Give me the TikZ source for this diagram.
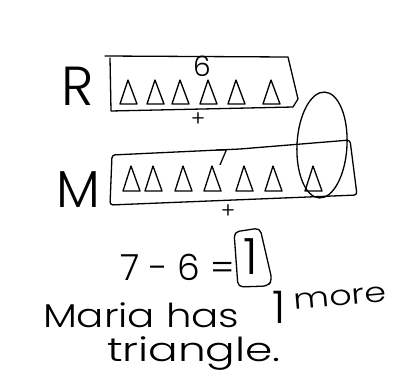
\documentclass[tikz,border=0pt]{standalone}
\usepackage{fontspec}
\setmainfont{Poppins Light}
\newcommand\mytri[3]{\draw[ink] (#1-8,#2) -- (#1,#3) -- (#1+9,#2) -- cycle;}
\begin{document}
\begin{tikzpicture}[x=1pt,y=-1pt,
  ink/.style={line width=1.3pt,line join=round,line cap=round},
  txt/.style={inner sep=0pt,outer sep=0pt}]
\useasboundingbox (0,0) rectangle (414,375);
\fill[white] (0,0) rectangle (414,375);
% R row
\node[txt,anchor=base,font=\fontsize{55}{55}\selectfont] (R) at (78,105) {R};
\draw[ink] (105,56) -- (288,57) -- (298,99) -- (293,107) -- (111,111) -- (110,58);
\foreach \x in {128,155,180,208,236,271}{\mytri{\x}{104}{80}}
\node[txt,font=\fontsize{28}{28}\selectfont] (six) at (202,66) {6};
\node[txt,font=\fontsize{22}{22}\selectfont] (p1) at (198,120) {+};
% M row
\node[txt,anchor=base,font=\fontsize{52}{52}\selectfont] (M) at (78,207) {M};
\draw[ink,rounded corners=3pt] (110,205) -- (112,155) -- (240,149) -- (350,140) -- (357,195) -- cycle;
\foreach \x in {131,153,183,212,244,273,313}{\mytri{\x}{191}{166}}
\node[txt,font=\fontsize{22}{22}\selectfont] (seven) at (222,158) {7};
\draw[ink,rotate around={-3:(322,145)}] (322,145) ellipse [x radius=25, y radius=53];
\node[txt,font=\fontsize{22}{22}\selectfont] (p2) at (228,212) {+};
% equation
\node[txt,anchor=base west,font=\fontsize{36}{36}\selectfont] (eq) at (120,280) {7 - 6 =};
\draw[ink,rounded corners=5pt] (234,232) -- (260,228) -- (272,280) -- (268,286) -- (238,287) -- cycle;
\node[txt,font=\fontsize{50}{50}\selectfont] (one) at (251,257) {1};
% sentence
\node[txt,anchor=base west,xscale=1.22,font=\fontsize{33}{33}\selectfont] (maria) at (43,327) {Maria has};
\node[txt,anchor=base,font=\fontsize{45}{45}\selectfont] (onea) at (279,323) {1};
\node[txt,rotate=5,xscale=1.25,font=\fontsize{28}{28}\selectfont] (more) at (340,298) {more};
\node[txt,anchor=base west,xscale=1.33,font=\fontsize{33}{33}\selectfont] (tri) at (107,361) {triangle.};
\end{tikzpicture}
\end{document}
